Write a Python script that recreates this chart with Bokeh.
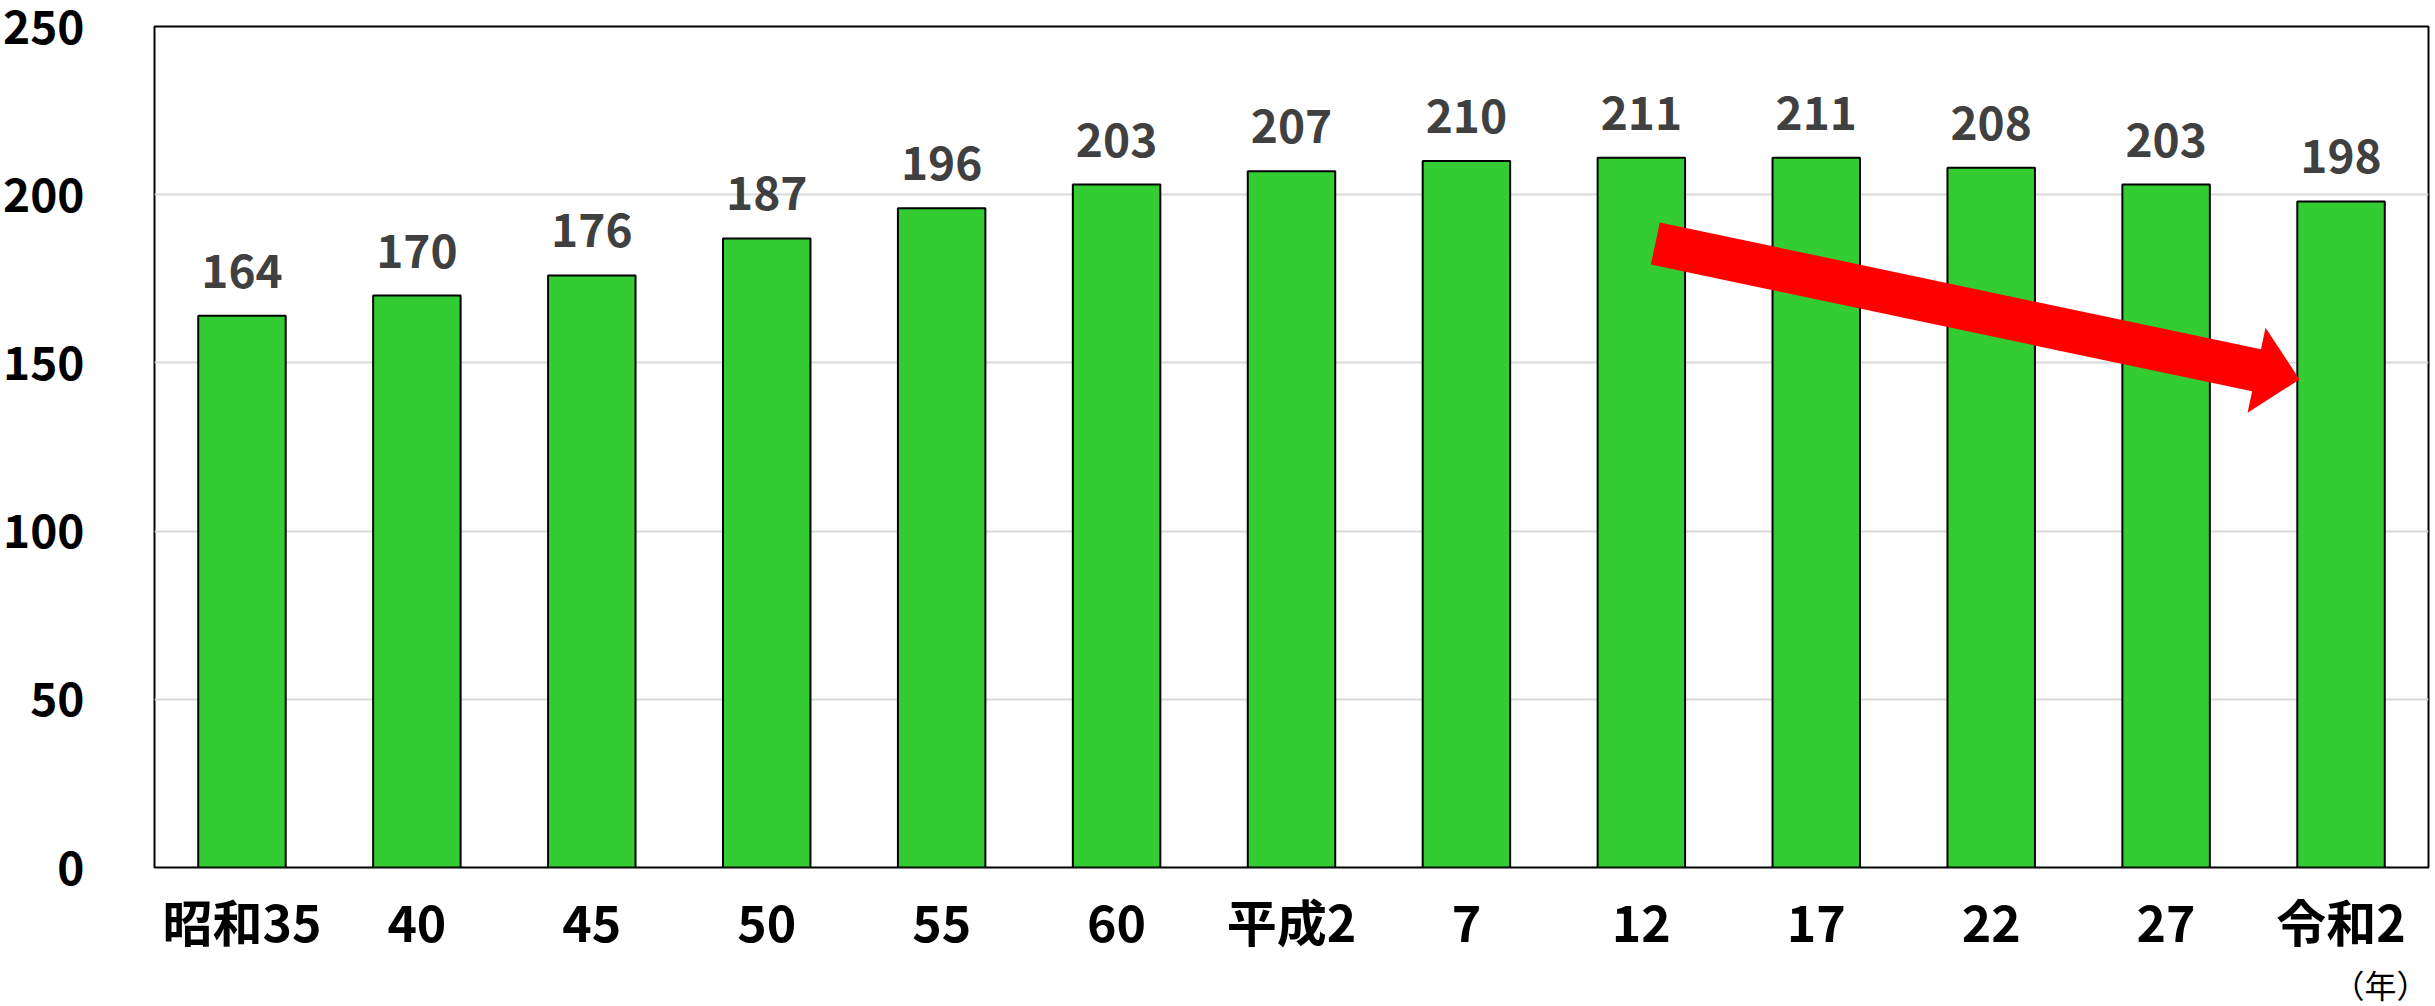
import math
from bokeh.plotting import figure
from bokeh.models import Range1d, FixedTicker, ColumnDataSource, Title
from bokeh.core.properties import value
from bokeh.embed import file_html
from bokeh.resources import INLINE

# ---- data ----
categories = ["昭和35", "40", "45", "50", "55", "60", "平成2", "7", "12", "17", "22", "27", "令和2"]
values = [164, 170, 176, 187, 196, 203, 207, 210, 211, 211, 208, 203, 198]
y_ticks = [0, 50, 100, 150, 200, 250]
unit_label = "（年）"
# arrow from start (category position, value) to end tip
arrow_start = (8.58, 185.5)
arrow_end = (12.263, 145.1)

FONT = "Noto Sans CJK JP"
W, H = 2435, 1006
BL, BR, BT = 153, 7, 26
FRAME_H = 841
BB = H - BT - FRAME_H
FRAME_W = W - BL - BR

n = len(categories)
xs = [i + 0.5 for i in range(n)]

p = figure(width=W, height=H, output_backend="svg", toolbar_location=None,
           x_range=Range1d(0, n), y_range=Range1d(0, 250),
           min_border_left=BL, min_border_right=BR, min_border_top=BT, min_border_bottom=BB)
p.outline_line_color = "black"
p.outline_line_width = 2
p.background_fill_color = "white"

src = ColumnDataSource(dict(x=xs, top=values, lab=[str(v) for v in values]))
p.vbar(x="x", top="top", width=0.5, bottom=0, source=src,
       fill_color="#33cc33", line_color="black", line_width=2)

p.text(x="x", y="top", text="lab", source=src, text_align="center", text_baseline="alphabetic",
       y_offset=-45, text_font=value(FONT), text_font_style="bold", text_font_size="46px",
       text_color="#404040")

# axes
p.xaxis.ticker = FixedTicker(ticks=xs)
p.xaxis.major_label_overrides = {x: c for x, c in zip(xs, categories)}
p.xaxis.major_label_text_font = FONT
p.xaxis.major_label_text_font_style = "bold"
p.xaxis.major_label_text_font_size = "50px"
p.xaxis.major_label_text_color = "black"
p.xaxis.major_label_standoff = 10
p.yaxis.ticker = FixedTicker(ticks=y_ticks)
p.yaxis.major_label_text_font = FONT
p.yaxis.major_label_text_font_style = "bold"
p.yaxis.major_label_text_font_size = "46px"
p.yaxis.major_label_text_color = "black"
p.yaxis.major_label_standoff = 64
for ax in (p.xaxis[0], p.yaxis[0]):
    ax.axis_line_color = None
    ax.major_tick_line_color = None
    ax.minor_tick_line_color = None

p.xgrid.grid_line_color = None
p.ygrid.grid_line_color = "#d9d9d9"
p.ygrid.grid_line_width = 2

# arrow polygon built in pixel space
sx = FRAME_W / n
sy = FRAME_H / 250
Sx, Sy = arrow_start[0] * sx, arrow_start[1] * sy
Tx, Ty = arrow_end[0] * sx, arrow_end[1] * sy
dx, dy = Tx - Sx, Ty - Sy
L = math.hypot(dx, dy)
ux, uy = dx / L, dy / L
nx, ny = -uy, ux
shaft_w, head_w, head_l = 43, 87, 44
Bx, By = Tx - ux * head_l, Ty - uy * head_l
pts = [
    (Sx + nx * shaft_w / 2, Sy + ny * shaft_w / 2),
    (Bx + nx * shaft_w / 2, By + ny * shaft_w / 2),
    (Bx + nx * head_w / 2, By + ny * head_w / 2),
    (Tx, Ty),
    (Bx - nx * head_w / 2, By - ny * head_w / 2),
    (Bx - nx * shaft_w / 2, By - ny * shaft_w / 2),
    (Sx - nx * shaft_w / 2, Sy - ny * shaft_w / 2),
]
p.patch([q[0] / sx for q in pts], [q[1] / sy for q in pts], fill_color="#ff0000", line_color=None)

p.add_layout(Title(text=unit_label, align="right", text_font=FONT, text_font_size="32px",
                   text_font_style="normal", text_color="black", standoff=0, offset=0), "below")

open("out.html", "w").write(file_html(p, INLINE))
